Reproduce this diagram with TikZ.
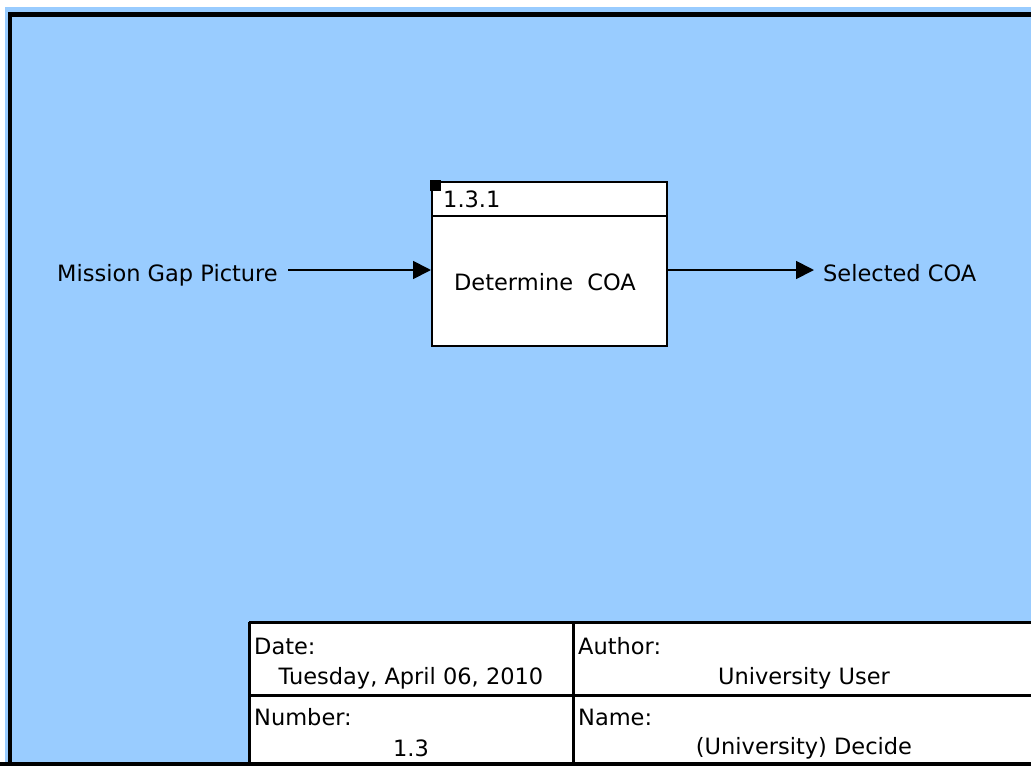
\documentclass[tikz,border=0pt]{standalone}
\usepackage{fontspec}
\setmainfont{DejaVu Sans}
\usetikzlibrary{arrows.meta}
\definecolor{bg}{HTML}{99CCFF}
\begin{document}
\begin{tikzpicture}[x=1pt,y=-1pt,
  lbl/.style={font=\fontsize{22.5}{27}\selectfont, inner sep=0pt},
  arr/.style={line width=1.8pt, -{Triangle[length=18pt,width=18pt]}},
  actbox/.style={draw, line width=2pt, fill=white, minimum width=235pt, minimum height=164pt, inner sep=0pt},
  tline/.style={line width=3pt},
  frame/.style={line width=4.5pt}]
\useasboundingbox (0,0) rectangle (1031,766);
\clip (0,0) rectangle (1031,766);
\fill[white] (0,0) rectangle (1031,766);
\fill[bg] (5,7) rectangle (1031,766);
\draw[frame] (10,14.5) rectangle (1050,764);
% activity box
\node[actbox] (act) at (549.5,264) {};
\fill ([shift={(-1,-1)}]act.north west) rectangle ++(11,11);
\draw[line width=2pt] (act.west |- 0,216) -- (act.east |- 0,216);
\node[lbl, anchor=base west] (num) at (443,207) {1.3.1};
\node[lbl, anchor=base] (title) at (545,290) {Determine\ \ COA};
% input / output
\node[lbl, anchor=base west] (in) at (57,281) {Mission Gap Picture};
\node[lbl, anchor=base west] (out) at (823,281) {Selected COA};
\coordinate (inS) at (288,270);
\coordinate (outT) at (814,270);
\draw[arr] (inS) -- (act.west |- inS);
\draw[arr] (act.east |- inS) -- (outT);
% title block
\fill[white] (249,622) rectangle (1050,764);
\draw[tline] (249,622) -- (1050,622);
\draw[tline] (249,622) -- (249,764);
\draw[tline] (573,622) -- (573,764);
\draw[tline] (249,695) -- (1050,695);
\draw[frame] (0,764) -- (1050,764);
\node[lbl, anchor=base west] (dateL) at (254,654) {Date:};
\node[lbl, anchor=base] (dateV) at (411,684) {Tuesday, April 06, 2010};
\node[lbl, anchor=base west] (numL) at (254,725) {Number:};
\node[lbl, anchor=base] (numV) at (411,756) {1.3};
\node[lbl, anchor=base west] (authL) at (578,654) {Author:};
\node[lbl, anchor=base] (authV) at (804,684) {University User};
\node[lbl, anchor=base west] (nameL) at (578,725) {Name:};
\node[lbl, anchor=base] (nameV) at (804,754) {(University) Decide};
\end{tikzpicture}
\end{document}
